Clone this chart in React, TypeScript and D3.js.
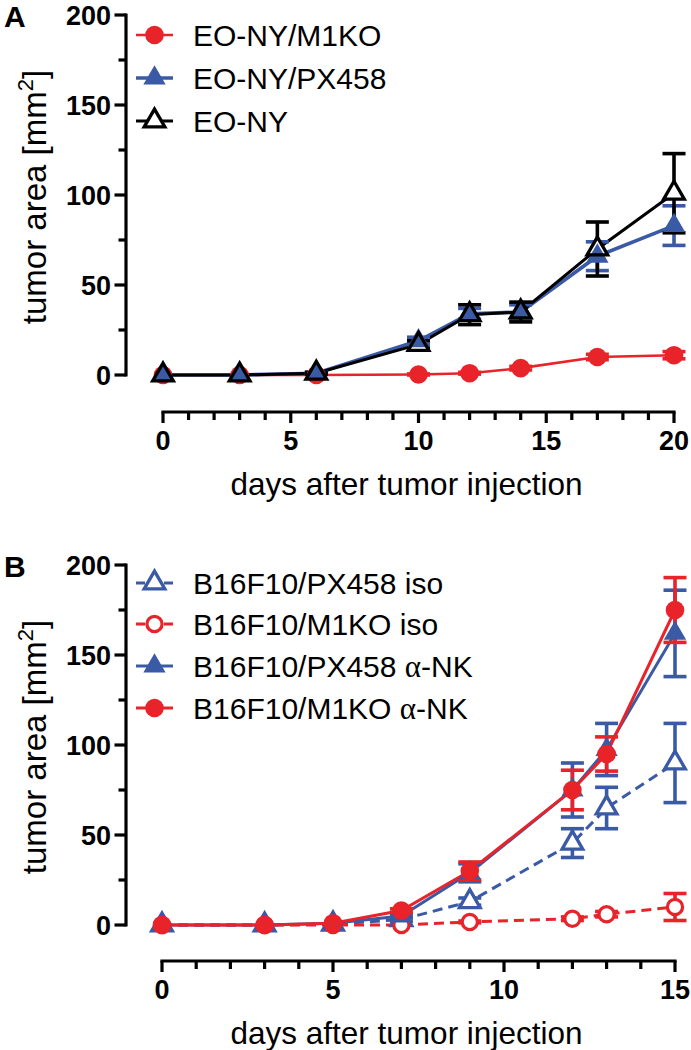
import React from 'react';
import * as d3 from 'd3';

const RED = '#e8232a';
const BLUE = '#3b5aa6';
const BLACK = '#000000';

// Panel A
const daysA = [0, 3, 6, 10, 12, 14, 17, 20];
const m1koA = [0, 0, 0, 0.3, 1, 3.8, 10, 11];
const m1koAErr = [0, 0, 0, 0.3, 0.5, 1, 1.5, 2];
const px458A = [0, 0, 1, 19, 34, 35, 66, 83];
const px458AErr = [0, 0, 0.5, 2, 3, 4, 8, 11];
const eonyA = [0, 0, 1, 17, 33.5, 35, 70, 101];
const eonyAErr = [0, 0, 0.5, 2, 5.5, 5.5, 15, 22];

// Panel B
const daysB = [0, 3, 5, 7, 9, 12, 13, 15];
const pxIsoB = [0, 0, 0.5, 3, 13, 45.5, 65, 90];
const pxIsoBErr = [0, 0, 0, 1, 2, 8, 11.5, 22];
const m1koIsoB = [0, 0, 0, 0, 1.7, 3.5, 6, 10];
const m1koIsoBErr = [0, 0, 0, 0, 0.5, 1, 1.5, 7.5];
const pxNkB = [0, 0, 1, 5, 29, 75, 97.5, 162];
const pxNkBErr = [0, 0, 0, 1, 5, 15, 14.5, 24];
const m1koNkB = [0, 0, 1, 8, 30, 75, 95, 175];
const m1koNkBErr = [0, 0, 0, 1, 5, 11, 9.5, 18];

const yTicks = [0, 50, 100, 150, 200];
const xTicksA = [0, 5, 10, 15, 20];
const xTicksB = [0, 5, 10, 15];

const legendA = ['EO-NY/M1KO', 'EO-NY/PX458', 'EO-NY'];
const legendB = ['B16F10/PX458 iso', 'B16F10/M1KO iso', 'B16F10/PX458 ', 'B16F10/M1KO '];

const FONT = '"Liberation Sans", Arial, Helvetica, sans-serif';

type Series = {
  days: number[];
  values: number[];
  errors: number[];
  color: string;
  marker: 'circle' | 'triangle';
  filled: boolean;
  dashed: boolean;
  lineWidth: number;
};

type Mode = 'full' | 'fill' | 'stroke';

function Marker({ s, cx, cy, mode = 'full' }: { s: Series; cx: number; cy: number; mode?: Mode }) {
  if (s.marker === 'circle') {
    if (s.filled) return <circle cx={cx} cy={cy} r={9.3} fill={s.color} />;
    return (
      <circle
        cx={cx}
        cy={cy}
        r={7.6}
        fill={mode === 'stroke' ? 'none' : 'white'}
        stroke={mode === 'fill' ? 'none' : s.color}
        strokeWidth={3.2}
      />
    );
  }
  const path = d3.symbol().type(d3.symbolTriangle).size(s.filled ? 215 : 185)() || '';
  if (s.filled) return <path d={path} transform={`translate(${cx},${cy})`} fill={s.color} />;
  return (
    <path
      d={path}
      transform={`translate(${cx},${cy})`}
      fill={mode === 'stroke' ? 'none' : 'white'}
      stroke={mode === 'fill' ? 'none' : s.color}
      strokeWidth={3.3}
      strokeLinejoin="miter"
    />
  );
}

type Sc = d3.ScaleLinear<number, number>;

function LineLayer({ s, x, y }: { s: Series; x: Sc; y: Sc }) {
  const pts = s.days.map((d, i) => [d, s.values[i]] as [number, number]);
  const line = d3
    .line<[number, number]>()
    .x((d) => x(d[0]))
    .y((d) => y(d[1]));
  return (
    <path
      d={line(pts) || ''}
      fill="none"
      stroke={s.color}
      strokeWidth={s.lineWidth}
      strokeDasharray={s.dashed ? '10,6' : undefined}
    />
  );
}

function ErrLayer({ s, x, y }: { s: Series; x: Sc; y: Sc }) {
  return (
    <g stroke={s.color} strokeWidth={3.6}>
      {s.days.map((d, i) => {
        const e = s.errors[i];
        if (!e) return null;
        const cx = x(d);
        const y1 = y(s.values[i] + e);
        const y2 = y(s.values[i] - e);
        return (
          <g key={'e' + i}>
            <line x1={cx} x2={cx} y1={y1} y2={y2} />
            <line x1={cx - 11.5} x2={cx + 11.5} y1={y1} y2={y1} />
            <line x1={cx - 11.5} x2={cx + 11.5} y1={y2} y2={y2} />
          </g>
        );
      })}
    </g>
  );
}

function MarkerLayer({ s, x, y, mode }: { s: Series; x: Sc; y: Sc; mode: Mode }) {
  return (
    <g>
      {s.days.map((d, i) => (
        <Marker key={'m' + i} s={s} cx={x(d)} cy={y(s.values[i])} mode={mode} />
      ))}
    </g>
  );
}

function LegendItem({ s, x0, y0, label, alpha }: { s: Series; x0: number; y0: number; label: string; alpha?: boolean }) {
  return (
    <g>
      <line
        x1={x0}
        x2={x0 + 37}
        y1={y0}
        y2={y0}
        stroke={s.color}
        strokeWidth={s.lineWidth}
        strokeDasharray={s.dashed ? '9,5' : undefined}
      />
      <Marker s={s} cx={x0 + 18.5} cy={y0} />
      <text x={x0 + 57} y={y0} dy="0.36em" fontSize={30} fontFamily={FONT} fill="#000">
        {label}
        {alpha ? (
          <>
            <tspan fontFamily='"Liberation Serif", "Times New Roman", serif' fontSize={31}>α</tspan>
            <tspan>-NK</tspan>
          </>
        ) : null}
      </text>
    </g>
  );
}

function Axes({
  x,
  y,
  xTicks,
  xMax,
  axisY,
  letter,
  letterY,
}: {
  x: Sc;
  y: Sc;
  xTicks: number[];
  xMax: number;
  axisY: number;
  letter: string;
  letterY: number;
}) {
  const axX = 126;
  const yMinor = d3.range(0, 201, 25);
  const xMinor = d3.range(0, xMax + 1, 1);
  const yMid = (y(0) + y(200)) / 2;
  return (
    <g fontFamily={FONT}>
      <text x={4} y={letterY} fontSize={30} fontWeight="bold">
        {letter}
      </text>
      <line x1={axX} x2={axX} y1={y(0) + 1.6} y2={y(200) - 1.6} stroke="#000" strokeWidth={3.2} />
      {yMinor.map((v) => (
        <line
          key={'ym' + v}
          x1={yTicks.includes(v) ? 114.5 : 118.5}
          x2={axX}
          y1={y(v)}
          y2={y(v)}
          stroke="#000"
          strokeWidth={3.2}
        />
      ))}
      {yTicks.map((v) => (
        <text key={'yt' + v} x={111} y={y(v)} dy="0.36em" textAnchor="end" fontSize={27} fontWeight="bold">
          {v}
        </text>
      ))}
      <text transform={`translate(46,${yMid + 2}) rotate(-90)`} textAnchor="middle" fontSize={33}>
        tumor area [mm
        <tspan dy={-13} fontSize={22}>
          2
        </tspan>
        <tspan dy={13}>]</tspan>
      </text>
      <line x1={x(0) - 1.6} x2={x(xMax) + 1.6} y1={axisY} y2={axisY} stroke="#000" strokeWidth={3.2} />
      {xMinor.map((v) => (
        <line
          key={'xm' + v}
          x1={x(v)}
          x2={x(v)}
          y1={axisY}
          y2={xTicks.includes(v) ? axisY + 11 : axisY + 8}
          stroke="#000"
          strokeWidth={3.2}
        />
      ))}
      {xTicks.map((v) => (
        <text key={'xt' + v} x={x(v)} y={axisY + 38} textAnchor="middle" fontSize={27} fontWeight="bold">
          {v}
        </text>
      ))}
      <text x={(x(0) + x(xMax)) / 2 - 12} y={axisY + 83} textAnchor="middle" fontSize={31.5}>
        days after tumor injection
      </text>
    </g>
  );
}

export default function App() {
  const xA = d3.scaleLinear().domain([0, 20]).range([163, 674]);
  const yA = d3.scaleLinear().domain([0, 200]).range([375, 15]);
  const xB = d3.scaleLinear().domain([0, 15]).range([162, 675]);
  const yB = d3.scaleLinear().domain([0, 200]).range([925, 565]);

  const sA: Series[] = [
    { days: daysA, values: m1koA, errors: m1koAErr, color: RED, marker: 'circle', filled: true, dashed: false, lineWidth: 2.6 },
    { days: daysA, values: px458A, errors: px458AErr, color: BLUE, marker: 'triangle', filled: true, dashed: false, lineWidth: 3.6 },
    { days: daysA, values: eonyA, errors: eonyAErr, color: BLACK, marker: 'triangle', filled: false, dashed: false, lineWidth: 3 },
  ];
  const sB: Series[] = [
    { days: daysB, values: pxIsoB, errors: pxIsoBErr, color: BLUE, marker: 'triangle', filled: false, dashed: true, lineWidth: 3 },
    { days: daysB, values: m1koIsoB, errors: m1koIsoBErr, color: RED, marker: 'circle', filled: false, dashed: true, lineWidth: 3 },
    { days: daysB, values: pxNkB, errors: pxNkBErr, color: BLUE, marker: 'triangle', filled: true, dashed: false, lineWidth: 3 },
    { days: daysB, values: m1koNkB, errors: m1koNkBErr, color: RED, marker: 'circle', filled: true, dashed: false, lineWidth: 3 },
  ];

  const legAY = [35, 78, 121];
  const legBY = [583, 624, 666, 708];

  return (
    <svg
      width={691}
      height={1050}
      viewBox="0 0 691 1050"
      style={{ position: 'absolute', left: 0, top: 0, display: 'block', background: '#fff' }}
    >
      <rect width={691} height={1050} fill="#fff" />
      <Axes x={xA} y={yA} xTicks={xTicksA} xMax={20} axisY={412} letter="A" letterY={27} />
      <Axes x={xB} y={yB} xTicks={xTicksB} xMax={15} axisY={961} letter="B" letterY={577} />

      {/* Panel A */}
      {sA.map((s, i) => (
        <LineLayer key={'la' + i} s={s} x={xA} y={yA} />
      ))}
      {sA.map((s, i) => (
        <ErrLayer key={'ea' + i} s={s} x={xA} y={yA} />
      ))}
      <MarkerLayer s={sA[0]} x={xA} y={yA} mode="full" />
      <MarkerLayer s={sA[2]} x={xA} y={yA} mode="fill" />
      <MarkerLayer s={sA[1]} x={xA} y={yA} mode="full" />
      <MarkerLayer s={sA[2]} x={xA} y={yA} mode="stroke" />

      {/* Panel B */}
      {sB.map((s, i) => (
        <LineLayer key={'lb' + i} s={s} x={xB} y={yB} />
      ))}
      {sB.map((s, i) => (
        <ErrLayer key={'eb' + i} s={s} x={xB} y={yB} />
      ))}
      {sB.map((s, i) => (
        <MarkerLayer key={'mb' + i} s={s} x={xB} y={yB} mode="full" />
      ))}

      {sA.map((s, i) => (
        <LegendItem key={'lga' + i} s={s} x0={136} y0={legAY[i]} label={legendA[i]} />
      ))}
      {sB.map((s, i) => (
        <LegendItem key={'lgb' + i} s={s} x0={136} y0={legBY[i]} label={legendB[i]} alpha={i >= 2} />
      ))}
    </svg>
  );
}
